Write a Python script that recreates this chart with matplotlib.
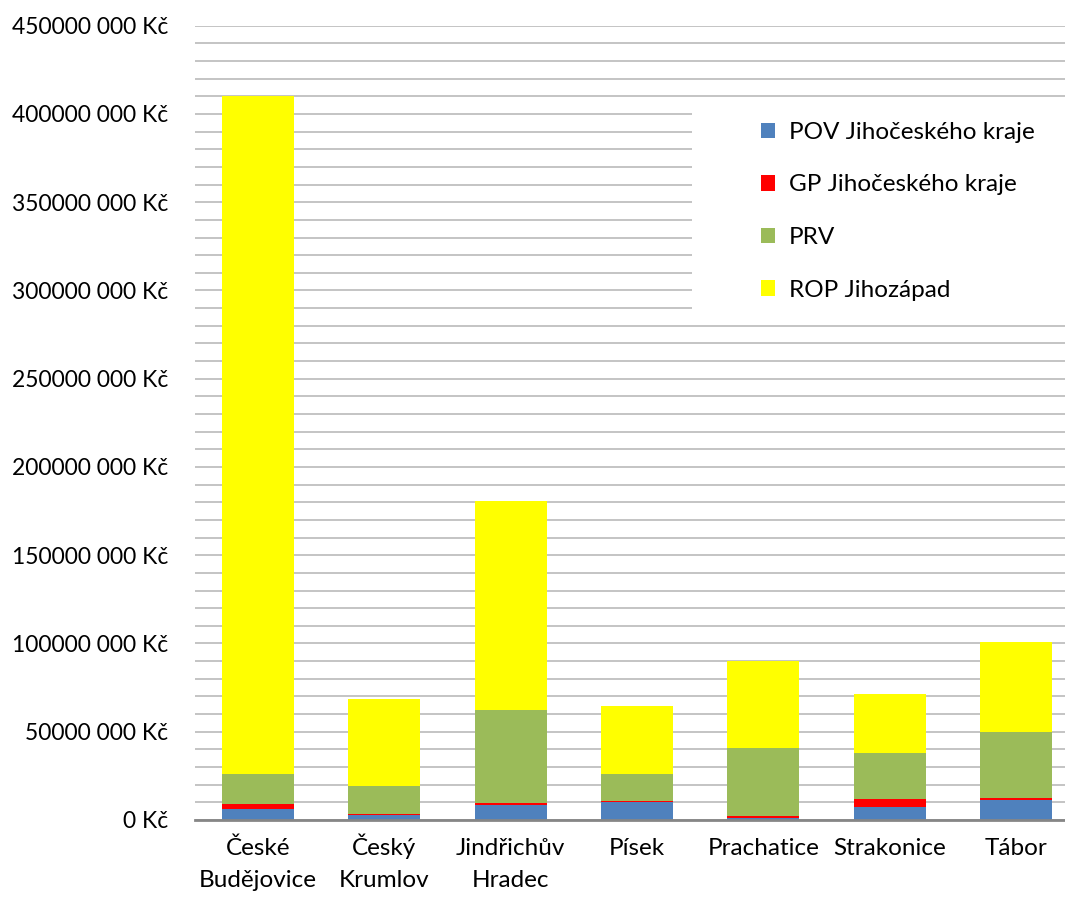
import matplotlib.pyplot as plt
import matplotlib.ticker as mticker
from matplotlib.patches import Rectangle
import numpy as np

plt.rcParams['font.family'] = ['Lato', 'DejaVu Sans']

okresy = ['České\nBudějovice', 'Český\nKrumlov', 'Jindřichův\nHradec', 'Písek',
          'Prachatice', 'Strakonice', 'Tábor']

# hodnoty v mil. Kč
pov = [6.2, 2.8, 8.5, 10.4, 1.3, 7.4, 11.5]
gp = [2.7, 0.6, 1.3, 0.3, 1.1, 4.7, 1.0]
prv = [17.2, 15.9, 52.5, 15.4, 38.2, 26.0, 37.5]
rop = [383.9, 49.3, 118.4, 38.5, 49.5, 33.1, 51.0]

serie = ['POV Jihočeského kraje', 'GP Jihočeského kraje', 'PRV', 'ROP Jihozápad']
barvy = ['#4F81BD', '#FF0000', '#9BBB59', '#FFFF00']


def kc(v, pos):
    v = int(round(v))
    if v == 0:
        return '0 Kč'
    return '%d %03d Kč' % (v // 1000, v % 1000)


fig = plt.figure(figsize=(10.65, 8.98), dpi=100)
ax_h = (820 - 25.7) / 898
ax = fig.add_axes([195 / 1065, 78 / 898, 1 - 195 / 1065, ax_h])

x = np.arange(len(okresy))
bottom = np.zeros(len(okresy))
for vals, name, c in zip([pov, gp, prv, rop], serie, barvy):
    v = np.array(vals) * 1e6
    ax.bar(x, v, 0.57, bottom=bottom, color=c, label=name, zorder=2)
    bottom += v

ax.set_xlim(-0.5, 6.5 - 14 / 126)
ax.set_ylim(0, 450e6)
ax.yaxis.set_major_locator(mticker.MultipleLocator(50e6))
ax.yaxis.set_minor_locator(mticker.MultipleLocator(10e6))
ax.yaxis.set_major_formatter(mticker.FuncFormatter(kc))
ax.grid(axis='y', which='both', color='#BFBFBF', linewidth=1.3)
ax.set_axisbelow(True)

# popisky kategorii po radcich, aby sedely na stejne vysce
ax.set_xticks(x)
ax.set_xticklabels([''] * len(okresy))
ax.tick_params(axis='x', length=0)
for i, lab in enumerate(okresy):
    for j, line in enumerate(lab.split('\n')):
        ax.text(i, -(35 + 32 * j) / 898 / ax_h, line, transform=ax.get_xaxis_transform(),
                ha='center', va='baseline', fontsize=17.5)

ax.tick_params(axis='y', which='both', length=0, labelsize=16.5, pad=19)

for s in ['top', 'right', 'left']:
    ax.spines[s].set_visible(False)
ax.spines['bottom'].set_color('#868686')
ax.spines['bottom'].set_linewidth(2)
ax.spines['bottom'].set_zorder(3)

# bily podklad legendy
ax.add_patch(Rectangle((692 / 1065, 1 - 325 / 898), 1, 225 / 898, transform=fig.transFigure,
                       facecolor='white', edgecolor='none', zorder=1))
leg = ax.legend(loc='upper left', bbox_to_anchor=(739 / 1065, 1 - 100 / 898),
                bbox_transform=fig.transFigure, frameon=False, fontsize=17.5,
                handlelength=0.6, handleheight=0.6, handletextpad=0.55, labelspacing=1.3)

fig.savefig('out.png', dpi=100)
